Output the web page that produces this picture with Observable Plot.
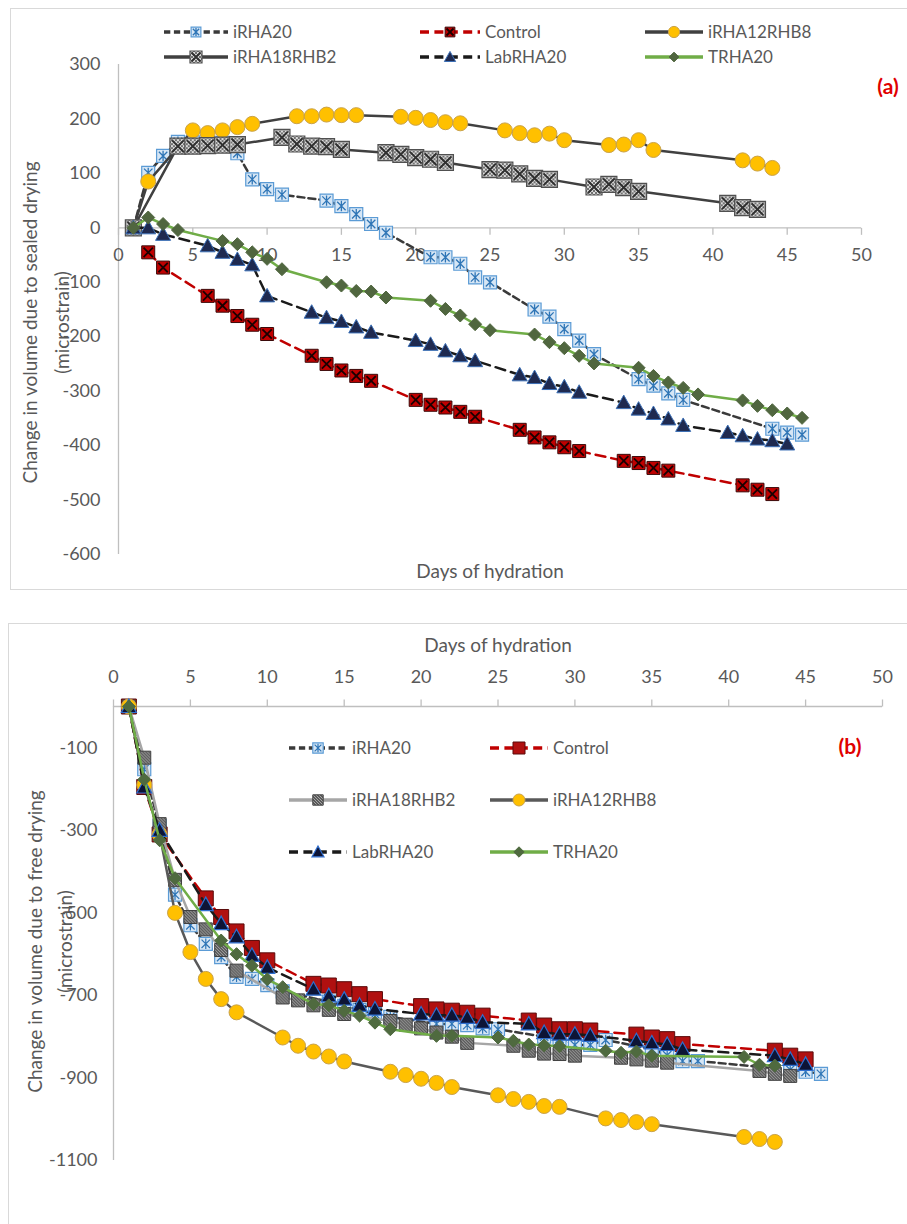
<!DOCTYPE html>
<html><head><meta charset="utf-8">
<script src="https://cdn.jsdelivr.net/npm/d3@7"></script>
<script src="https://cdn.jsdelivr.net/npm/@observablehq/plot@0.6"></script>
<style>
body{margin:0;background:#fff;overflow:hidden;font-family:Lato,"Open Sans",sans-serif;}
#page{position:relative;width:907px;height:1224px;overflow:hidden;}
.box{position:absolute;border:1px solid #d9d9d9;}
.layer{position:absolute;left:0;}
</style></head><body>
<svg width="0" height="0" style="position:absolute">
<defs>
<pattern id="hatchA" width="4" height="4" patternUnits="userSpaceOnUse"><rect width="4" height="4" fill="#dcdcdc"/><path d="M0,0L4,4M4,0L0,4" stroke="#555" stroke-width="0.8"/></pattern>
<pattern id="hatchB" width="3" height="3" patternUnits="userSpaceOnUse"><rect width="3" height="3" fill="#5a5a5a"/><path d="M0,0L3,3" stroke="#c8c8c8" stroke-width="0.7"/></pattern>
</defs></svg>
<div id="page">
<div class="box" style="left:10px;top:8px;width:905px;height:580px"></div>
<div class="box" style="left:8px;top:623px;width:905px;height:640px"></div>
</div>
<script>
// ---------------- DATA ----------------
const xTicks = [0,5,10,15,20,25,30,35,40,45,50];
const yTicksA = [300,200,100,0,-100,-200,-300,-400,-500,-600];
const yTicksB = [-100,-300,-500,-700,-900,-1100];

// panel (a): [day, microstrain]
const a_iRHA20 = [[1,0],[2,101],[3,132],[4,158],[5,157],[6,156],[7,156],[8,137],[9,89],[10,71],[11,61],[14,50],[15,40],[16,25],[17,7],[18,-9],[21,-54],[22,-54],[23,-66],[24,-91],[25,-100],[28,-150],[29,-163],[30,-186],[31,-207],[32,-232],[35,-278],[36,-290],[37,-304],[38,-316],[44,-369],[45,-376],[46,-380]];
const a_Control = [[2,-45],[3,-73],[6,-125],[7,-143],[8,-162],[9,-178],[10,-195],[13,-235],[14,-250],[15,-262],[16,-272],[17,-281],[20,-316],[21,-325],[22,-330],[23,-338],[24,-347],[27,-371],[28,-385],[29,-394],[30,-403],[31,-410],[34,-428],[35,-432],[36,-441],[37,-446],[42,-473],[43,-481],[44,-489]];
const a_iRHA12RHB8 = [[1,0],[2,85],[5,179],[6,174],[7,179],[8,185],[9,191],[12,205],[13,205],[14,208],[15,207],[16,207],[19,204],[20,202],[21,198],[22,194],[23,192],[26,179],[27,174],[28,170],[29,173],[30,161],[33,152],[34,153],[35,161],[36,143],[42,124],[43,118],[44,110]];
const a_iRHA18RHB2 = [[1,0],[4,150],[5,150],[6,151],[7,152],[8,153],[11,166],[12,154],[13,150],[14,149],[15,144],[18,138],[19,135],[20,129],[21,126],[22,120],[25,107],[26,106],[27,99],[28,91],[29,89],[32,75],[33,80],[34,74],[35,67],[41,45],[42,37],[43,34]];
const a_LabRHA20 = [[1,0],[2,0],[3,-12],[6,-33],[7,-45],[8,-58],[9,-68],[10,-125],[13,-155],[14,-165],[15,-172],[16,-182],[17,-192],[20,-207],[21,-214],[22,-226],[23,-235],[24,-244],[27,-270],[28,-275],[29,-286],[30,-292],[31,-302],[34,-321],[35,-333],[36,-341],[37,-351],[38,-363],[41,-376],[42,-382],[43,-388],[44,-391],[45,-397]];
const a_TRHA20 = [[1,0],[2,19],[3,7],[4,-4],[7,-24],[8,-30],[9,-45],[10,-57],[11,-76],[14,-100],[15,-106],[16,-116],[17,-117],[18,-128],[21,-134],[22,-149],[23,-161],[24,-177],[25,-188],[28,-196],[29,-210],[30,-221],[31,-235],[32,-249],[35,-257],[36,-272],[37,-284],[38,-294],[39,-306],[42,-317],[43,-327],[44,-335],[45,-341],[46,-349]];

// panel (b)
const b_iRHA20 = [[1,0],[2,-152],[3,-290],[4,-456],[5,-530],[6,-575],[7,-607],[8,-655],[9,-660],[10,-675],[11,-690],[14,-715],[15,-725],[16,-735],[17,-745],[18,-752],[21,-769],[22,-769],[23,-772],[24,-780],[25,-782],[28,-800],[29,-805],[30,-820],[31,-820],[32,-808],[35,-830],[36,-845],[37,-859],[38,-859],[44,-880],[45,-885],[46,-890]];
const b_Control = [[1,0],[2,-195],[3,-310],[6,-465],[7,-510],[8,-545],[9,-585],[10,-615],[13,-672],[14,-676],[15,-685],[16,-697],[17,-709],[20,-726],[21,-734],[22,-737],[23,-742],[24,-749],[27,-761],[28,-773],[29,-782],[30,-782],[31,-785],[34,-795],[35,-802],[36,-806],[37,-818],[43,-834],[44,-846],[45,-855]];
const b_iRHA18RHB2 = [[1,0],[2,-124],[3,-285],[4,-420],[5,-510],[6,-540],[7,-590],[8,-640],[11,-705],[12,-712],[13,-724],[14,-735],[15,-745],[18,-762],[19,-771],[20,-780],[21,-790],[22,-800],[23,-815],[26,-822],[27,-834],[28,-841],[29,-842],[30,-846],[33,-851],[34,-855],[35,-858],[36,-863],[42,-883],[43,-890],[44,-895]];
const b_iRHA12RHB8 = [[1,0],[2,-190],[3,-310],[4,-500],[5,-595],[6,-660],[7,-709],[8,-741],[11,-802],[12,-822],[13,-836],[14,-848],[15,-860],[18,-885],[19,-893],[20,-902],[21,-912],[22,-922],[25,-942],[26,-951],[27,-958],[28,-968],[29,-970],[32,-998],[33,-1002],[34,-1007],[35,-1012],[41,-1043],[42,-1048],[43,-1055]];
const b_LabRHA20 = [[1,0],[2,-195],[3,-300],[6,-480],[7,-526],[8,-558],[9,-603],[10,-632],[13,-685],[14,-701],[15,-709],[16,-724],[17,-733],[20,-745],[21,-748],[22,-748],[23,-753],[24,-765],[27,-769],[28,-790],[29,-794],[30,-794],[31,-797],[34,-810],[35,-815],[36,-819],[37,-831],[43,-846],[44,-855],[45,-867]];
const b_TRHA20 = [[1,0],[2,-177],[3,-324],[4,-416],[7,-567],[8,-600],[9,-628],[10,-661],[11,-680],[13,-721],[14,-724],[15,-737],[16,-749],[17,-766],[18,-782],[21,-798],[22,-798],[25,-802],[26,-810],[27,-819],[28,-821],[29,-823],[32,-834],[33,-839],[34,-836],[35,-846],[41,-849],[42,-868],[43,-870]];

// ---------------- STYLES ----------------
const FONT = "Lato, 'Open Sans', sans-serif";
const TXT = "#595959";
const AXIS = "#bfbfbf";
function sym(fn){ return {draw(c,size){ const r=Math.sqrt(size/Math.PI); fn(c,r);} }; }
const SQ  = sym((c,r)=>{c.moveTo(-r,-r);c.lineTo(r,-r);c.lineTo(r,r);c.lineTo(-r,r);c.closePath();});
const XS  = sym((c,r)=>{const k=r*0.72;c.moveTo(-k,-k);c.lineTo(k,k);c.moveTo(-k,k);c.lineTo(k,-k);});
const AST = sym((c,r)=>{const k=r*0.65;c.moveTo(-k,-k);c.lineTo(k,k);c.moveTo(-k,k);c.lineTo(k,-k);c.moveTo(0,-r*0.8);c.lineTo(0,r*0.8);});
const TRI = sym((c,r)=>{c.moveTo(0,-r);c.lineTo(r,r*0.8);c.lineTo(-r,r*0.8);c.closePath();});
const DIA = sym((c,r)=>{c.moveTo(0,-r);c.lineTo(r,0);c.lineTo(0,r);c.lineTo(-r,0);c.closePath();});
const CIR = sym((c,r)=>{c.moveTo(r,0);c.arc(0,0,r,0,2*Math.PI);});
const TICKDOWN = {draw(c){c.moveTo(0,0);c.lineTo(0,7);}};
const TICKUP = {draw(c){c.moveTo(0,0);c.lineTo(0,-7);}};

const styleA = {
  iRHA20:{stroke:"#3a3a3a",dash:"7,4",w:2.5,m:[{s:SQ,r:6.5,fill:"#d6e6f5",stroke:"#5b9bd5",sw:1.2},{s:AST,r:6.5,fill:"none",stroke:"#2e75b6",sw:1.3}]},
  Control:{stroke:"#c00000",dash:"10,6",w:2.5,m:[{s:SQ,r:6.5,fill:"#c00000",stroke:"#3b0a0a",sw:1},{s:XS,r:6.5,fill:"none",stroke:"#1a0000",sw:1.8}]},
  iRHA12RHB8:{stroke:"#404040",dash:null,w:2.5,m:[{s:CIR,r:7.5,fill:"#ffc000",stroke:"#c9a24a",sw:1}]},
  iRHA18RHB2:{stroke:"#404040",dash:null,w:2.5,m:[{s:SQ,r:8,fill:"url(#hatchA)",stroke:"#505050",sw:1.2},{s:XS,r:8,fill:"none",stroke:"#303030",sw:2}]},
  LabRHA20:{stroke:"#1a1a1a",dash:"10,6",w:2.5,m:[{s:TRI,r:7.5,fill:"#1f2a50",stroke:"#3b6fb6",sw:1}]},
  TRHA20:{stroke:"#70ad47",dash:null,w:2.5,m:[{s:DIA,r:6.5,fill:"#50663f",stroke:"#50663f",sw:1}]}
};
const styleB = {
  iRHA20:{stroke:"#3a3a3a",dash:"7,4",w:2.5,m:[{s:SQ,r:6.5,fill:"#d6e6f5",stroke:"#5b9bd5",sw:1.2},{s:AST,r:6.5,fill:"none",stroke:"#2e75b6",sw:1.2}]},
  Control:{stroke:"#c00000",dash:"10,6",w:2.5,m:[{s:SQ,r:7.5,fill:"#b01010",stroke:"#5a0a0a",sw:1}]},
  iRHA18RHB2:{stroke:"#a6a6a6",dash:null,w:2.5,m:[{s:SQ,r:6.5,fill:"url(#hatchB)",stroke:"#404040",sw:1}]},
  iRHA12RHB8:{stroke:"#595959",dash:null,w:2.5,m:[{s:CIR,r:7.5,fill:"#ffc000",stroke:"#c9a24a",sw:1}]},
  LabRHA20:{stroke:"#1a1a1a",dash:"10,6",w:2.5,m:[{s:TRI,r:7.5,fill:"#0d1436",stroke:"#2f6fd0",sw:1.2}]},
  TRHA20:{stroke:"#70ad47",dash:null,w:2.5,m:[{s:DIA,r:6.5,fill:"#4f6a3f",stroke:"#4f6a3f",sw:1}]}
};

const seriesA = [["iRHA20",a_iRHA20],["Control",a_Control],["iRHA12RHB8",a_iRHA12RHB8],["iRHA18RHB2",a_iRHA18RHB2],["LabRHA20",a_LabRHA20],["TRHA20",a_TRHA20]];
const seriesB = [["iRHA20",b_iRHA20],["Control",b_Control],["iRHA18RHB2",b_iRHA18RHB2],["iRHA12RHB8",b_iRHA12RHB8],["LabRHA20",b_LabRHA20],["TRHA20",b_TRHA20]];

function seriesMarks(series, styles){
  const marks = [];
  for (const [name, pts] of series){
    const st = styles[name];
    const data = pts.map(([d,v])=>({day:d, v}));
    marks.push(Plot.line(data,{x:"day",y:"v",stroke:st.stroke,strokeWidth:st.w,strokeDasharray:st.dash||undefined}));
    for (const m of st.m){
      marks.push(Plot.dot(data,{x:"day",y:"v",symbol:m.s,r:m.r,fill:m.fill,stroke:m.stroke,strokeWidth:m.sw}));
    }
  }
  return marks;
}

const page = document.getElementById("page");
const T = {fill:TXT, lineAnchor:"middle"};

// ---------------- PANEL (a) ----------------
const chartA = Plot.plot({
  width: 907, height: 600,
  marginLeft: 118, marginRight: 46, marginTop: 64, marginBottom: 46,
  x:{domain:[0,50], axis:null},
  y:{domain:[-600,300], axis:null},
  style:{fontFamily:FONT, background:"transparent", overflow:"visible"},
  marks:[
    Plot.ruleX([0],{stroke:AXIS,strokeWidth:1.3}),
    Plot.ruleY([0],{stroke:AXIS,strokeWidth:1.3}),
    Plot.dot(xTicks,{x:d=>d,y:0,symbol:TICKDOWN,stroke:AXIS,strokeWidth:1.3}),
    Plot.text(xTicks,{...T,x:d=>d,y:0,dy:27,text:d=>String(d),fontSize:18}),
    Plot.text(yTicksA,{...T,x:0,y:d=>d,dx:-18,textAnchor:"end",text:d=>String(d),fontSize:18}),
    Plot.text(["Days of hydration"],{...T,frameAnchor:"bottom",dy:17,textAnchor:"middle",fontSize:19}),
    Plot.text(["Change in volume due to sealed drying"],{...T,frameAnchor:"left",dx:-88,dy:13,rotate:-90,textAnchor:"middle",fontSize:19}),
    Plot.text(["(microstrain)"],{...T,frameAnchor:"left",dx:-56,dy:13,rotate:-90,textAnchor:"middle",fontSize:19}),
    ...seriesMarks(seriesA, styleA)
  ]
});
chartA.classList.add("layer"); chartA.style.top = "0px";
page.appendChild(chartA);

// ---------------- PANEL (b) ----------------
const chartB = Plot.plot({
  width: 907, height: 624,
  marginLeft: 113, marginRight: 25, marginTop: 106, marginBottom: 64,
  x:{domain:[0,50], axis:null},
  y:{domain:[-1100,0], axis:null},
  style:{fontFamily:FONT, background:"transparent", overflow:"visible"},
  marks:[
    Plot.ruleX([0],{stroke:AXIS,strokeWidth:1.3}),
    Plot.ruleY([0],{stroke:AXIS,strokeWidth:1.3}),
    Plot.dot(xTicks,{x:d=>d,y:0,symbol:TICKUP,stroke:AXIS,strokeWidth:1.3}),
    Plot.text(xTicks,{...T,x:d=>d,frameAnchor:"top",dy:-29,text:d=>String(d),fontSize:18}),
    Plot.text(yTicksB,{...T,y:d=>d,frameAnchor:"left",dx:-16,textAnchor:"end",text:d=>String(d),fontSize:18}),
    Plot.text(["Days of hydration"],{...T,frameAnchor:"top",dy:-61,textAnchor:"middle",fontSize:19}),
    Plot.text(["Change in volume due to free drying"],{...T,frameAnchor:"left",dx:-78,dy:8,rotate:-90,textAnchor:"middle",fontSize:19}),
    Plot.text(["(microstrain)"],{...T,frameAnchor:"left",dx:-48,dy:8,rotate:-90,textAnchor:"middle",fontSize:19}),
    ...seriesMarks(seriesB, styleB)
  ]
});
chartB.classList.add("layer"); chartB.style.top = "600px";
page.appendChild(chartB);

// ---------------- LEGENDS ----------------
function legend(items, styles, tag, tagPos, scale){
  const svg = d3.select(page).append("svg").attr("class","layer").style("top","0px")
    .attr("width",907).attr("height",1224).style("pointer-events","none");
  for (const it of items){
    const st = styles[it.name];
    const g = svg.append("g").attr("transform",`translate(${it.x},${it.y})`);
    g.append("line").attr("x1",0).attr("x2",it.len).attr("y1",0).attr("y2",0)
      .attr("stroke",st.stroke).attr("stroke-width",st.w+0.8).attr("stroke-dasharray",st.dash?st.dash.split(",").map(v=>+v*0.9).join(","):null);
    for (const m of st.m){
      const r = m.r*scale;
      g.append("path").attr("transform",`translate(${it.len/2},0)`)
        .attr("d",d3.symbol().type(m.s).size(Math.PI*r*r)())
        .attr("fill",m.fill).attr("stroke",m.stroke).attr("stroke-width",m.sw);
    }
    g.append("text").attr("x",it.len+5).attr("y",0).attr("dy","0.35em")
      .attr("fill",TXT).attr("font-family",FONT).attr("font-size",17).text(it.name);
  }
  svg.append("text").attr("x",tagPos[0]).attr("y",tagPos[1]).attr("dy","0.35em").attr("text-anchor","middle")
    .attr("fill","#e00000").attr("font-family",FONT).attr("font-weight","bold").attr("font-size",21).text(tag);
}
legend([
  {name:"iRHA20",x:164,y:32,len:64},{name:"Control",x:420,y:32,len:60},{name:"iRHA12RHB8",x:645,y:32,len:58},
  {name:"iRHA18RHB2",x:164,y:57,len:64},{name:"LabRHA20",x:420,y:57,len:60},{name:"TRHA20",x:645,y:57,len:58}
], styleA, "(a)", [888,87], 0.75);
legend([
  {name:"iRHA20",x:289,y:748,len:58},{name:"Control",x:490,y:748,len:58},
  {name:"iRHA18RHB2",x:289,y:800,len:58},{name:"iRHA12RHB8",x:490,y:800,len:58},
  {name:"LabRHA20",x:289,y:852,len:58},{name:"TRHA20",x:490,y:852,len:58}
], styleB, "(b)", [850,747], 0.8);
</script>
</body></html>
